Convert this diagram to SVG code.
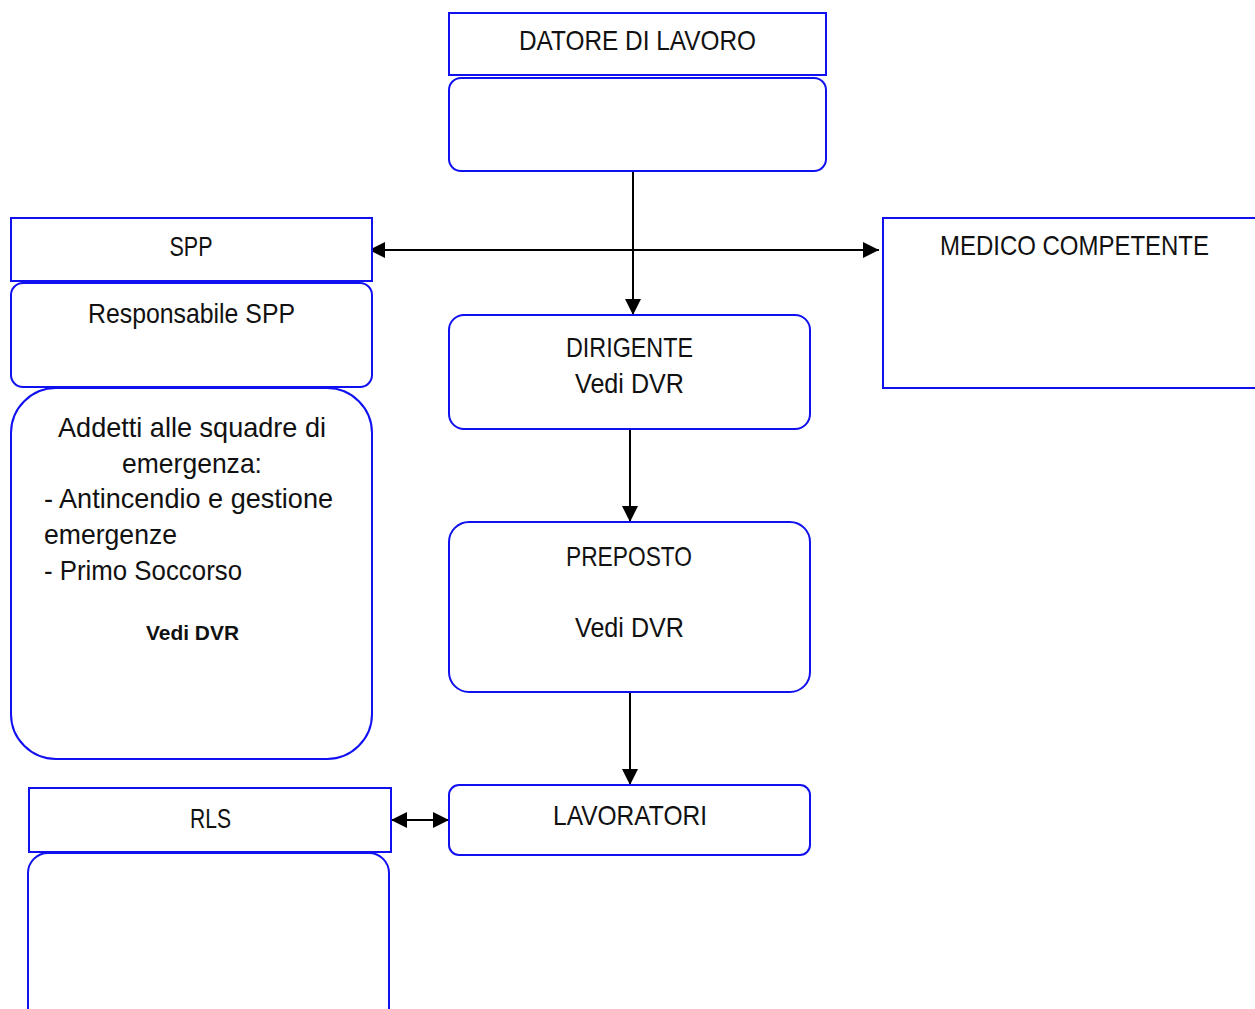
<svg xmlns="http://www.w3.org/2000/svg" width="1255" height="1009" viewBox="0 0 1255 1009">
<style>
.box{fill:#fff;stroke:#1010f0;stroke-width:2}
.t{font-family:"Liberation Sans",Arial,sans-serif;font-size:28px;fill:#111}
.c{text-anchor:middle}
.b{font-weight:bold;font-size:21px}
.con{stroke:#000;stroke-width:2;fill:none}
</style>
<defs>
<marker id="ah" markerUnits="userSpaceOnUse" markerWidth="16" markerHeight="16" refX="15" refY="7.5" orient="auto-start-reverse" viewBox="0 0 15 15">
<path d="M0,0 L15,7.5 L0,15 z" fill="#000"/>
</marker>
</defs>
<rect width="1255" height="1009" fill="#fff"/>
<g id="connectors">
<line class="con" x1="633" y1="171" x2="633" y2="315" marker-end="url(#ah)"/>
<line class="con" x1="369" y1="250" x2="879" y2="250" marker-start="url(#ah)" marker-end="url(#ah)"/>
<line class="con" x1="630" y1="429" x2="630" y2="522" marker-end="url(#ah)"/>
<line class="con" x1="630" y1="692" x2="630" y2="785" marker-end="url(#ah)"/>
<line class="con" x1="391" y1="820" x2="449" y2="820" marker-start="url(#ah)" marker-end="url(#ah)"/>
</g>
<g id="datore">
<rect class="box" x="449" y="13" width="377" height="62"/>
<text class="t c" x="637.5" y="50" textLength="237" lengthAdjust="spacingAndGlyphs">DATORE DI LAVORO</text>
</g>
<g id="datore-body">
<rect class="box" x="449" y="78" width="377" height="93" rx="12"/>
</g>
<g id="spp">
<rect class="box" x="11" y="218" width="361" height="63"/>
<text class="t c" x="191" y="256" textLength="43" lengthAdjust="spacingAndGlyphs">SPP</text>
</g>
<g id="rspp">
<rect class="box" x="11" y="283" width="361" height="104" rx="12"/>
<text class="t c" x="191.5" y="323" textLength="207" lengthAdjust="spacingAndGlyphs">Responsabile SPP</text>
</g>
<g id="addetti">
<rect class="box" x="11" y="388" width="361" height="371" rx="45"/>
<text class="t c" x="192" y="437" textLength="268" lengthAdjust="spacingAndGlyphs">Addetti alle squadre di</text>
<text class="t c" x="192" y="473" textLength="140" lengthAdjust="spacingAndGlyphs">emergenza:</text>
<text class="t" x="44" y="508" textLength="289" lengthAdjust="spacingAndGlyphs">- Antincendio e gestione</text>
<text class="t" x="44" y="544" textLength="133" lengthAdjust="spacingAndGlyphs">emergenze</text>
<text class="t" x="44" y="580" textLength="198" lengthAdjust="spacingAndGlyphs">- Primo Soccorso</text>
<text class="t c b" x="192.5" y="640" textLength="93" lengthAdjust="spacingAndGlyphs">Vedi DVR</text>
</g>
<g id="medico">
<rect class="box" x="883" y="218" width="400" height="170"/>
<text class="t c" x="1074.5" y="255" textLength="269" lengthAdjust="spacingAndGlyphs">MEDICO COMPETENTE</text>
</g>
<g id="dirigente">
<rect class="box" x="449" y="315" width="361" height="114" rx="15"/>
<text class="t c" x="629.5" y="357" textLength="127" lengthAdjust="spacingAndGlyphs">DIRIGENTE</text>
<text class="t c" x="629.5" y="393" textLength="109" lengthAdjust="spacingAndGlyphs">Vedi DVR</text>
</g>
<g id="preposto">
<rect class="box" x="449" y="522" width="361" height="170" rx="20"/>
<text class="t c" x="629" y="566" textLength="126" lengthAdjust="spacingAndGlyphs">PREPOSTO</text>
<text class="t c" x="629.5" y="637" textLength="109" lengthAdjust="spacingAndGlyphs">Vedi DVR</text>
</g>
<g id="lavoratori">
<rect class="box" x="449" y="785" width="361" height="70" rx="10"/>
<text class="t c" x="630" y="825" textLength="154" lengthAdjust="spacingAndGlyphs">LAVORATORI</text>
</g>
<g id="rls">
<rect class="box" x="29" y="788" width="362" height="64"/>
<text class="t c" x="210.5" y="828" textLength="41" lengthAdjust="spacingAndGlyphs">RLS</text>
</g>
<g id="rls-body">
<rect class="box" x="28" y="853" width="361" height="180" rx="20"/>
</g>
</svg>
